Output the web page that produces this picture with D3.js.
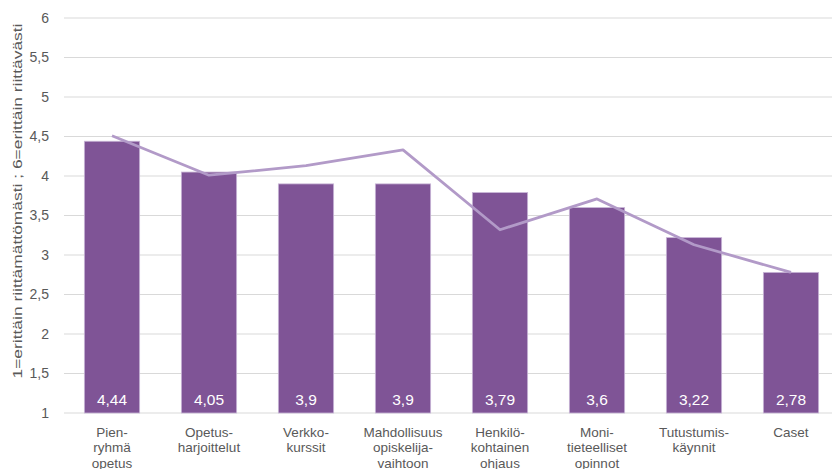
<!DOCTYPE html>
<html><head><meta charset="utf-8">
<script src="https://cdn.jsdelivr.net/npm/d3@7"></script>
<style>
body{margin:0;background:#fff;}
text{font-family:"Liberation Sans",Arial,sans-serif;}
</style></head>
<body><svg id="c" width="832" height="469"></svg>
<script>
const categories = [
  ["Pien-","ryhmä","opetus"],
  ["Opetus-","harjoittelut"],
  ["Verkko-","kurssit"],
  ["Mahdollisuus","opiskelija-","vaihtoon"],
  ["Henkilö-","kohtainen","ohjaus"],
  ["Moni-","tieteelliset","opinnot"],
  ["Tutustumis-","käynnit"],
  ["Caset"]
];
const barValues = [4.44, 4.05, 3.9, 3.9, 3.79, 3.6, 3.22, 2.78];
const barLabels = ["4,44","4,05","3,9","3,9","3,79","3,6","3,22","2,78"];
const lineValues = [4.51, 4.01, 4.13, 4.33, 3.32, 3.71, 3.13, 2.78];
const yTicks = [1,1.5,2,2.5,3,3.5,4,4.5,5,5.5,6];
const yTitle = "1=erittäin riittämättömästi ; 6=erittäin riittävästi";

const svg = d3.select("#c");
const x0 = 63.5, bandW = 97;
const x = d3.scaleBand().domain(d3.range(categories.length))
  .range([x0, x0 + bandW*categories.length]).paddingInner(0.43).paddingOuter(0.215);
const y = d3.scaleLinear().domain([1,6]).range([413,18]);
const fmt = v => String(v).replace(".", ",");

// gridlines
svg.append("g").selectAll("line").data(yTicks).join("line")
  .attr("x1", 64).attr("x2", 832)
  .attr("y1", d => y(d)).attr("y2", d => y(d))
  .attr("stroke", "#d9d9d9").attr("stroke-width", 1);

// y tick labels
svg.append("g").selectAll("text").data(yTicks).join("text")
  .attr("x", 49).attr("y", d => y(d)).attr("dy", "0.35em")
  .attr("text-anchor", "end").attr("font-size", 14).attr("fill", "#595959")
  .text(fmt);

// y title
svg.append("text")
  .attr("transform", "translate(22,201) rotate(-90)")
  .attr("text-anchor", "middle").attr("font-size", 12.5).attr("fill", "#595959")
  .attr("textLength", 355).attr("lengthAdjust", "spacingAndGlyphs")
  .text(yTitle);

// bars
svg.append("g").selectAll("rect").data(barValues).join("rect")
  .attr("x", (d,i) => x(i)).attr("width", x.bandwidth())
  .attr("y", d => y(d)).attr("height", d => y(1) - y(d))
  .attr("fill", "#7f5496").attr("stroke", "#c8b6d6").attr("stroke-width", 0.8);

// bar labels
svg.append("g").selectAll("text").data(barLabels).join("text")
  .attr("x", (d,i) => x(i) + x.bandwidth()/2).attr("y", 405)
  .attr("text-anchor", "middle").attr("font-size", 15.5).attr("fill", "#ffffff")
  .text(d => d);

// line
const line = d3.line().x((d,i) => x(i) + x.bandwidth()/2).y(d => y(d));
svg.append("path").datum(lineValues).attr("d", line)
  .attr("fill", "none").attr("stroke", "#b29ac8").attr("stroke-width", 2.8)
  .attr("stroke-linejoin", "round");

// category labels
const cg = svg.append("g").selectAll("text").data(categories).join("text")
  .attr("x", (d,i) => x(i) + x.bandwidth()/2)
  .attr("text-anchor", "middle").attr("font-size", 13.5).attr("fill", "#595959");
cg.selectAll("tspan").data(d => d).join("tspan")
  .attr("x", function(){ return this.parentNode.getAttribute("x"); })
  .attr("y", (d,j) => 437 + j*15.3)
  .text(d => d);
</script></body></html>
